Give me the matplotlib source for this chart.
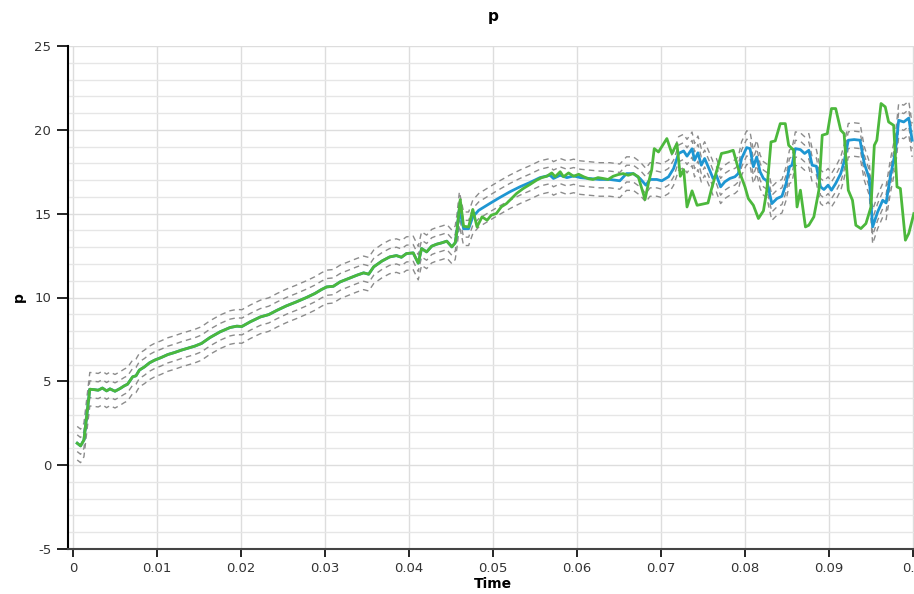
import matplotlib.pyplot as plt
import numpy as np
from matplotlib.ticker import MultipleLocator

plt.rcParams['axes.unicode_minus'] = False

# values
early_t = [0.0005, 0.0009, 0.0013, 0.0020, 0.0026, 0.0030, 0.0035, 0.0040, 0.0044, 0.0050,
           0.0056, 0.0061, 0.0065, 0.0071, 0.0075, 0.0079, 0.0085, 0.0091, 0.0097, 0.0105,
           0.0113, 0.0121, 0.0129, 0.0137, 0.0145, 0.0153, 0.0163, 0.0175, 0.0187, 0.0195,
           0.0201, 0.0211, 0.0223, 0.0233, 0.0243, 0.0254, 0.0266, 0.0278, 0.0288, 0.0296,
           0.0302, 0.0310, 0.0318, 0.0328, 0.0338, 0.0346, 0.0352, 0.0358, 0.0368, 0.0377,
           0.0385, 0.0391, 0.0397, 0.0405, 0.0411, 0.0415, 0.0421, 0.0427, 0.0433, 0.0439,
           0.0445, 0.0451, 0.0455]
early_p = [1.31, 1.15, 1.50, 4.53, 4.50, 4.47, 4.60, 4.43, 4.55, 4.41,
           4.57, 4.73, 4.83, 5.27, 5.33, 5.67, 5.86, 6.10, 6.26, 6.42,
           6.60, 6.72, 6.86, 6.98, 7.10, 7.26, 7.61, 7.95, 8.21, 8.29,
           8.27, 8.55, 8.84, 8.98, 9.24, 9.50, 9.74, 10.00, 10.24, 10.48,
           10.63, 10.67, 10.93, 11.13, 11.33, 11.47, 11.39, 11.83, 12.18, 12.42,
           12.50, 12.40, 12.62, 12.66, 12.05, 12.92, 12.72, 13.06, 13.18, 13.26,
           13.36, 13.02, 13.26]

blue_late_t = [0.0457, 0.0460, 0.0465, 0.0471, 0.0476, 0.0483, 0.0496, 0.0508, 0.0520, 0.0532,
               0.0544, 0.0556, 0.0568, 0.0572, 0.0580, 0.0588, 0.0596, 0.0604, 0.0627, 0.0639,
               0.0651, 0.0659, 0.0667, 0.0675, 0.0682, 0.0687, 0.0695, 0.0701, 0.0709, 0.0715,
               0.0721, 0.0727, 0.0731, 0.0737, 0.0740, 0.0744, 0.0748, 0.0752, 0.0758, 0.0762,
               0.0766, 0.0771, 0.0776, 0.0782, 0.0788, 0.0792, 0.0796, 0.0802, 0.0806, 0.0810,
               0.0814, 0.0818, 0.0822, 0.0826, 0.0832, 0.0838, 0.0844, 0.0849, 0.0853, 0.0856,
               0.0860, 0.0866, 0.0871, 0.0876, 0.0880, 0.0885, 0.0890, 0.0894, 0.0899, 0.0903,
               0.0908, 0.0914, 0.0918, 0.0923, 0.0930, 0.0937, 0.0942, 0.0948, 0.0952, 0.0958,
               0.0964, 0.0968, 0.0973, 0.0979, 0.0983, 0.0989, 0.0995, 0.0999]
blue_late_p = [13.91, 15.30, 14.10, 14.10, 14.81, 15.20, 15.60, 15.96, 16.30, 16.60,
               16.86, 17.15, 17.29, 17.10, 17.29, 17.15, 17.25, 17.15, 17.04, 17.04,
               16.96, 17.39, 17.39, 17.10, 16.70, 17.04, 17.04, 16.96, 17.20, 17.69,
               18.59, 18.74, 18.43, 18.87, 18.19, 18.63, 17.89, 18.29, 17.59, 17.10,
               17.29, 16.60, 16.90, 17.10, 17.20, 17.39, 18.29, 18.94, 18.88, 17.80,
               18.38, 17.50, 17.10, 16.96, 15.60, 15.90, 16.04, 16.80, 17.80, 17.89,
               18.88, 18.82, 18.59, 18.78, 17.89, 17.83, 16.60, 16.44, 16.70, 16.40,
               16.80, 17.39, 18.09, 19.38, 19.42, 19.38, 18.00, 17.10, 14.21, 15.11,
               15.80, 15.64, 17.20, 18.68, 20.57, 20.47, 20.70, 19.38]

green_late_t = [0.0457, 0.0461, 0.0465, 0.0471, 0.0476, 0.0481, 0.0487, 0.0493, 0.0498, 0.0504,
                0.0510, 0.0516, 0.0520, 0.0528, 0.0536, 0.0544, 0.0552, 0.0558, 0.0564, 0.0570,
                0.0574, 0.0580, 0.0584, 0.0590, 0.0596, 0.0602, 0.0608, 0.0614, 0.0619, 0.0625,
                0.0631, 0.0637, 0.0643, 0.0649, 0.0655, 0.0661, 0.0667, 0.0673, 0.0681, 0.0685,
                0.0689, 0.0692, 0.0697, 0.0707, 0.0713, 0.0719, 0.0723, 0.0727, 0.0731, 0.0737,
                0.0743, 0.0756, 0.0760, 0.0766, 0.0772, 0.0780, 0.0786, 0.0792, 0.0800, 0.0804,
                0.0810, 0.0816, 0.0822, 0.0826, 0.0831, 0.0836, 0.0842, 0.0848, 0.0852, 0.0858,
                0.0862, 0.0866, 0.0872, 0.0876, 0.0882, 0.0888, 0.0892, 0.0898, 0.0903, 0.0908,
                0.0914, 0.0918, 0.0923, 0.0928, 0.0932, 0.0938, 0.0944, 0.0950, 0.0954, 0.0957,
                0.0962, 0.0967, 0.0971, 0.0977, 0.0981, 0.0985, 0.0991, 0.0995, 0.1001]
green_late_p = [13.91, 15.84, 14.25, 14.21, 15.25, 14.21, 14.81, 14.61, 14.91, 15.01,
                15.41, 15.60, 15.80, 16.20, 16.50, 16.74, 17.00, 17.15, 17.23, 17.43,
                17.20, 17.50, 17.20, 17.43, 17.23, 17.35, 17.20, 17.08, 17.04, 17.15,
                17.10, 17.04, 17.23, 17.33, 17.39, 17.29, 17.39, 17.20, 15.84, 16.80,
                17.63, 18.88, 18.68, 19.48, 18.59, 19.18, 17.23, 17.63, 15.40, 16.36,
                15.50, 15.64, 16.44, 17.50, 18.59, 18.68, 18.78, 17.69, 16.60, 15.90,
                15.50, 14.71, 15.17, 16.40, 19.28, 19.34, 20.37, 20.37, 19.08, 18.78,
                15.40, 16.40, 14.21, 14.31, 14.81, 16.40, 19.68, 19.77, 21.27, 21.27,
                19.98, 19.77, 16.40, 15.80, 14.31, 14.11, 14.41, 15.40, 19.08, 19.38,
                21.57, 21.37, 20.47, 20.27, 16.60, 16.50, 13.42, 13.82, 15.00]

band_offsets = [-1.0, -0.5, 0.5, 1.0]

blue_t = np.array(early_t + blue_late_t)
blue_p = np.array(early_p + blue_late_p)
green_t = np.array(early_t + green_late_t)
green_p = np.array(early_p + green_late_p)

fig = plt.figure(figsize=(9.14, 5.94), dpi=100)
ax = fig.add_axes([68 / 914, 45 / 594, 850 / 914, 503 / 594])

for off in band_offsets:
    ax.plot(blue_t, blue_p + off, color="#8c8c8c", lw=1.0, linestyle=(0, (4, 3)))
ax.plot(blue_t, blue_p, color="#1e96d2", lw=2.0)
ax.plot(green_t, green_p, color="#4cb83c", lw=2.0)

ax.set_xlim(-0.000595, 0.1006)
ax.set_ylim(-5, 25)
ax.yaxis.set_major_locator(MultipleLocator(5))
ax.yaxis.set_minor_locator(MultipleLocator(1))
ax.set_xticks(np.arange(0, 0.101, 0.01))
ax.set_xticklabels(["0", "0.01", "0.02", "0.03", "0.04", "0.05", "0.06", "0.07", "0.08", "0.09", "0.1"])

ax.grid(True, which="major", color="#dddddd", lw=1.0)
ax.grid(True, which="minor", axis="y", color="#e6e6e6", lw=1.0)
ax.set_axisbelow(True)

for s in ["top", "right"]:
    ax.spines[s].set_visible(False)
ax.spines["left"].set_color("black")
ax.spines["left"].set_linewidth(1.5)
ax.spines["bottom"].set_color("#444444")
ax.spines["bottom"].set_linewidth(1.5)

ax.tick_params(axis="y", which="major", length=8, width=1.2, pad=4, labelsize=9.5, labelcolor="#333333")
ax.tick_params(axis="y", which="minor", length=0)
ax.tick_params(axis="x", length=6, width=1.2, pad=3, labelsize=9.5, labelcolor="#333333")

ax.set_title("p", fontweight="bold", fontsize=11, pad=18)
ax.set_ylabel("p", fontweight="bold", fontsize=10, labelpad=6)
ax.set_xlabel("Time", fontweight="bold", fontsize=10, labelpad=2)

fig.savefig("out.png", dpi=100)
